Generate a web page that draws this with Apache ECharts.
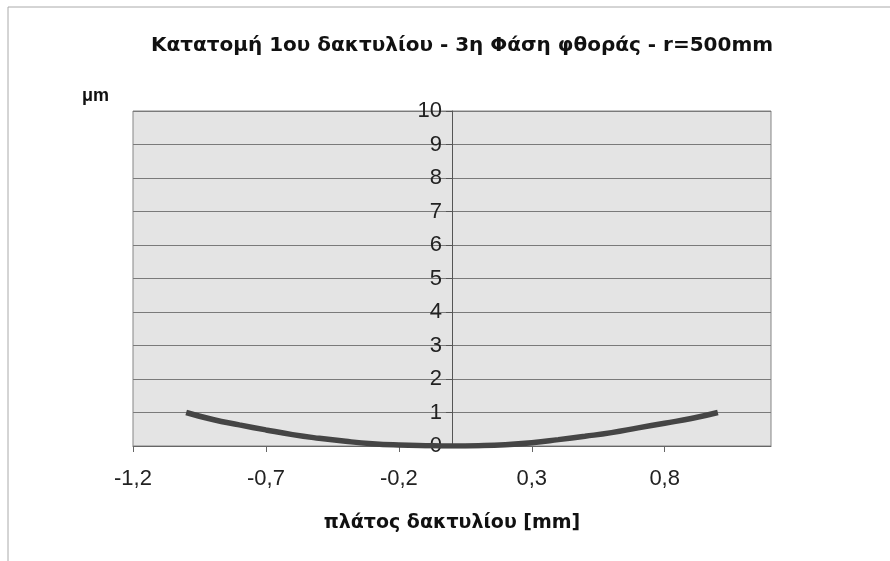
<!DOCTYPE html>
<html>
<head>
<meta charset="utf-8">
<script src="https://cdn.jsdelivr.net/npm/echarts@6/dist/echarts.min.js"></script>
<style>
  html, body { margin: 0; padding: 0; background: #fff; }
  #chart { width: 890px; height: 561px; }
</style>
</head>
<body>
<div id="chart"></div>
<script>
// ring width (mm) and wear depth (μm)
const widthMm = [-1.0, -0.9, -0.8, -0.7, -0.6, -0.5, -0.4, -0.3, -0.2, -0.1, 0.0,
                 0.1, 0.2, 0.3, 0.4, 0.5, 0.6, 0.7, 0.8, 0.9, 1.0];
const wearUm = [1.0, 0.79, 0.63, 0.48, 0.34, 0.23, 0.14, 0.07, 0.03, 0.01, 0.0,
                0.01, 0.04, 0.1, 0.19, 0.29, 0.4, 0.54, 0.68, 0.82, 1.0];

const chart = echarts.init(document.getElementById("chart"));
const font = "'Liberation Sans', Arial, sans-serif";
const boldFont = "'DejaVu Sans', 'Liberation Sans', sans-serif";

chart.setOption({
  animation: false,
  title: {
    text: "Κατατομή 1ου δακτυλίου - 3η Φάση φθοράς - r=500mm",
    left: 146,
    top: 31,
    textStyle: { fontFamily: boldFont, fontSize: 20, fontWeight: "bold", color: "#111" },
  },
  graphic: [
    { type: "line", shape: { x1: 8, y1: 7, x2: 8, y2: 561 }, style: { stroke: "#aaa", lineWidth: 1 } },
    { type: "line", shape: { x1: 8, y1: 7, x2: 890, y2: 7 }, style: { stroke: "#aaa", lineWidth: 1 } },
    {
      type: "text", left: 82, top: 87,
      style: { text: "μm", font: "bold 18px " + font, fill: "#111" },
    },
  ],
  grid: {
    left: 133,
    right: 119,
    top: 111,
    bottom: 115,
    show: true,
    backgroundColor: "#e4e4e4",
    borderColor: "#858585",
    borderWidth: 1,
  },
  xAxis: {
    type: "value",
    min: -1.2,
    max: 1.2,
    interval: 0.5,
    name: "πλάτος δακτυλίου [mm]",
    nameLocation: "middle",
    nameGap: 68,
    nameTextStyle: { fontFamily: boldFont, fontSize: 19, fontWeight: "bold", color: "#111" },
    axisLine: { onZero: false, lineStyle: { color: "#666" } },
    axisTick: { show: true, length: 6, lineStyle: { color: "#666" } },
    axisLabel: {
      showMaxLabel: false,
      margin: 22,
      fontFamily: font,
      fontSize: 22,
      color: "#222",
      formatter: (v) => v.toFixed(1).replace(".", ","),
    },
    splitLine: { show: false },
  },
  yAxis: {
    type: "value",
    min: 0,
    max: 10,
    interval: 1,
    // axis sits on x = 0, i.e. 319px right of the grid's left edge
    offset: -319,
    axisLine: { show: true, onZero: false, lineStyle: { color: "#555" } },
    axisTick: { show: true, length: 6, lineStyle: { color: "#555" } },
    axisLabel: { fontFamily: font, fontSize: 22, color: "#222", margin: 10 },
    splitLine: { show: true, lineStyle: { color: "#7a7a7a", width: 1 } },
  },
  series: [
    {
      type: "line",
      data: widthMm.map((x, i) => [x, wearUm[i]]),
      smooth: true,
      showSymbol: false,
      lineStyle: { color: "#454545", width: 5.5 },
    },
  ],
});
</script>
</body>
</html>
